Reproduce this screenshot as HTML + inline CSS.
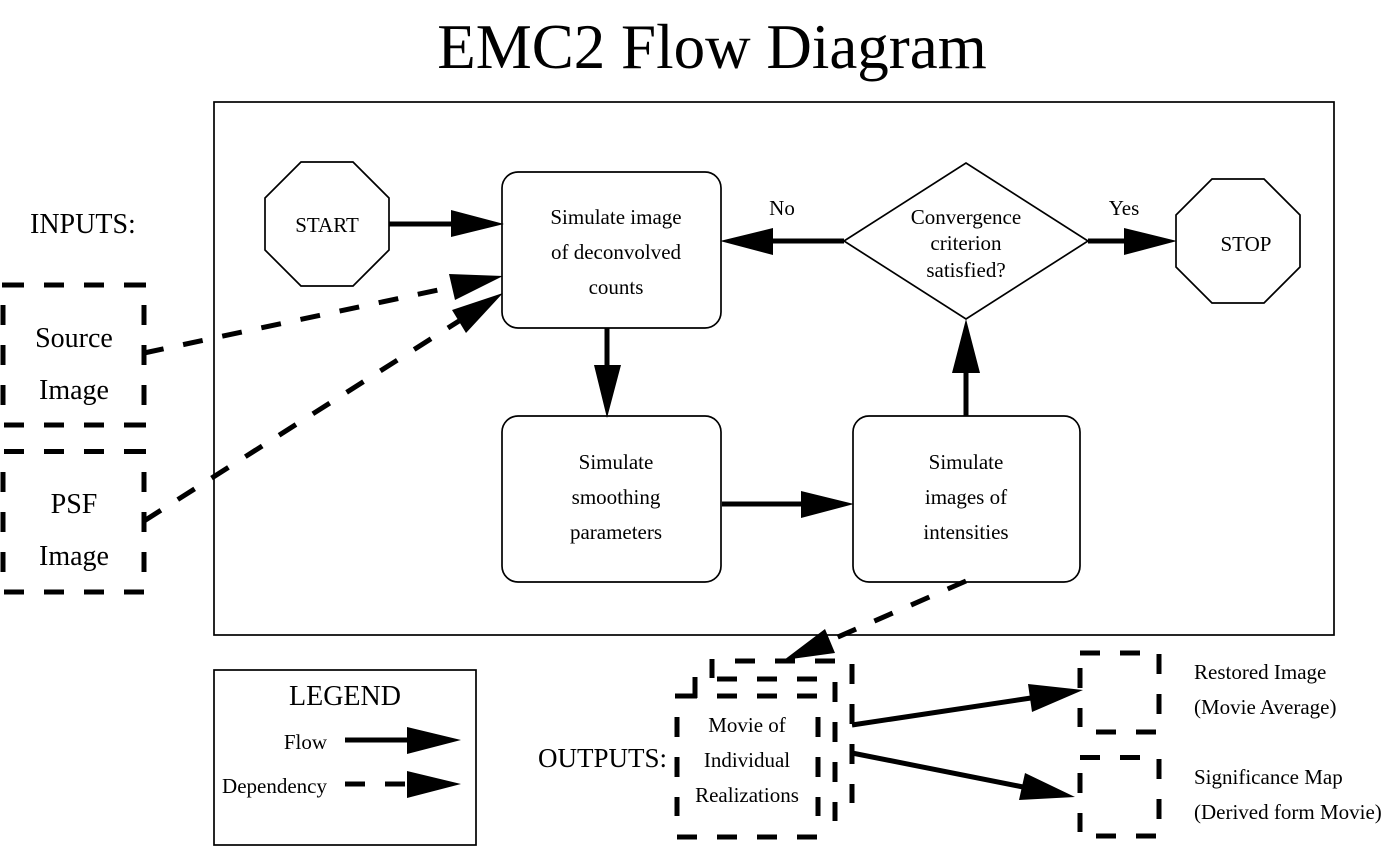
<!DOCTYPE html>
<html><head><meta charset="utf-8"><style>
html,body{margin:0;padding:0;background:#fff}
svg{display:block}
text{font-family:"Liberation Serif",serif;fill:#000}
.s{font-size:21px}.m{font-size:28px}
.c{text-anchor:middle}
.b{fill:#fff;stroke:#000;stroke-width:1.7}
.d{fill:none;stroke:#000;stroke-width:5}
.f{fill:none;stroke:#000;stroke-width:5}
.h{fill:#000}
</style></head><body>
<svg width="1394" height="848" viewBox="0 0 1394 848" xmlns="http://www.w3.org/2000/svg">
<text x="712" y="68" font-size="63" class="c">EMC2 Flow Diagram</text>
<rect x="214" y="102" width="1120" height="533" class="b"/>
<rect x="214" y="670" width="262" height="175" class="b"/>
<polygon class="b" points="301,162 353,162 389,198 389,250 353,286 301,286 265,250 265,198"/>
<polygon class="b" points="1212,179 1264,179 1300,215 1300,267 1264,303 1212,303 1176,267 1176,215"/>
<rect x="502" y="172" width="219" height="156" rx="16" class="b"/>
<rect x="502" y="416" width="219" height="166" rx="16" class="b"/>
<rect x="853" y="416" width="227" height="166" rx="16" class="b"/>
<polygon class="b" points="844,241 966,163 1088,241 966,319"/>

<path class="f" d="M389 224H452M773 241H844M1088 241H1125M607 328V366M722 504H802M966 416V372M345 740H408"/>
<path class="h" d="M451 210V237L504 224ZM773 228V255L720 241ZM1124 228V255L1177 241ZM594 365H621L607 418ZM801 491V518L854 504ZM952 373H980L966 319ZM407 727V754L461 740ZM407 771V798L461 784Z"/>

<path class="f" d="M852 725L1031 698M852 753L1023 787"/>
<path class="h" d="M1028 684L1032 712L1083 690ZM1025 773L1019 800L1075 797Z"/>

<path class="h" d="M449 274L455 300L503 276ZM452 310L466 333L503 293ZM825 629L835 653L784 660Z"/>
<g class="d" stroke-dasharray="20 20">
<path d="M144 353L452 287"/>
<path d="M144 521L459 321"/>
<path d="M966 581L831 640"/>
<path d="M345 784H407"/>
<path d="M4 285H144M4 425H144M4 451.500H144M4 592H144"/>
<path d="M3 305V405M144 305V405M3 472V572M144 472V572"/>
<path d="M677 717V816M818 717V816M835 682V821M852 664V803M712 659V678"/>
<path d="M677 837H819M717 696H817M717 679H817M735 661H835"/>
<path d="M1080 653H1140M1080 668V727M1159 654V714M1096 732H1156"/>
<path d="M1080 757.500H1140M1080 773V832M1159 759V819M1096 836H1156"/>
</g>
<path class="d" d="M675 696H697M695 677V698"/>
<path class="d" d="M2 285H4M144 285H146M144 425H146M144 451.500H146"/>

<text x="30" y="233" class="m">INPUTS:</text>
<text x="74" y="347" class="m c">Source</text>
<text x="74" y="399" class="m c">Image</text>
<text x="74" y="513" class="m c">PSF</text>
<text x="74" y="565" class="m c">Image</text>
<text x="538" y="767" font-size="27">OUTPUTS:</text>
<text x="345" y="705" class="m c">LEGEND</text>
<g class="s">
<text x="327" y="232" class="c">START</text>
<text x="1246" y="251" class="c">STOP</text>
<text x="782" y="215" class="c">No</text>
<text x="1124" y="215" class="c">Yes</text>
<text x="616" y="224" class="c">Simulate image</text>
<text x="616" y="259" class="c">of deconvolved</text>
<text x="616" y="294" class="c">counts</text>
<text x="966" y="224" class="c">Convergence</text>
<text x="966" y="250" class="c">criterion</text>
<text x="966" y="277" class="c">satisfied?</text>
<text x="616" y="469" class="c">Simulate</text>
<text x="616" y="504" class="c">smoothing</text>
<text x="616" y="539" class="c">parameters</text>
<text x="966" y="469" class="c">Simulate</text>
<text x="966" y="504" class="c">images of</text>
<text x="966" y="539" class="c">intensities</text>
<text x="747" y="732" class="c">Movie of</text>
<text x="747" y="767" class="c">Individual</text>
<text x="747" y="802" class="c">Realizations</text>
<text x="327" y="749" text-anchor="end">Flow</text>
<text x="327" y="793" text-anchor="end">Dependency</text>
<text x="1194" y="679">Restored Image</text>
<text x="1194" y="714">(Movie Average)</text>
<text x="1194" y="784">Significance Map</text>
<text x="1194" y="819">(Derived form Movie)</text>
</g>
</svg>
</body></html>
